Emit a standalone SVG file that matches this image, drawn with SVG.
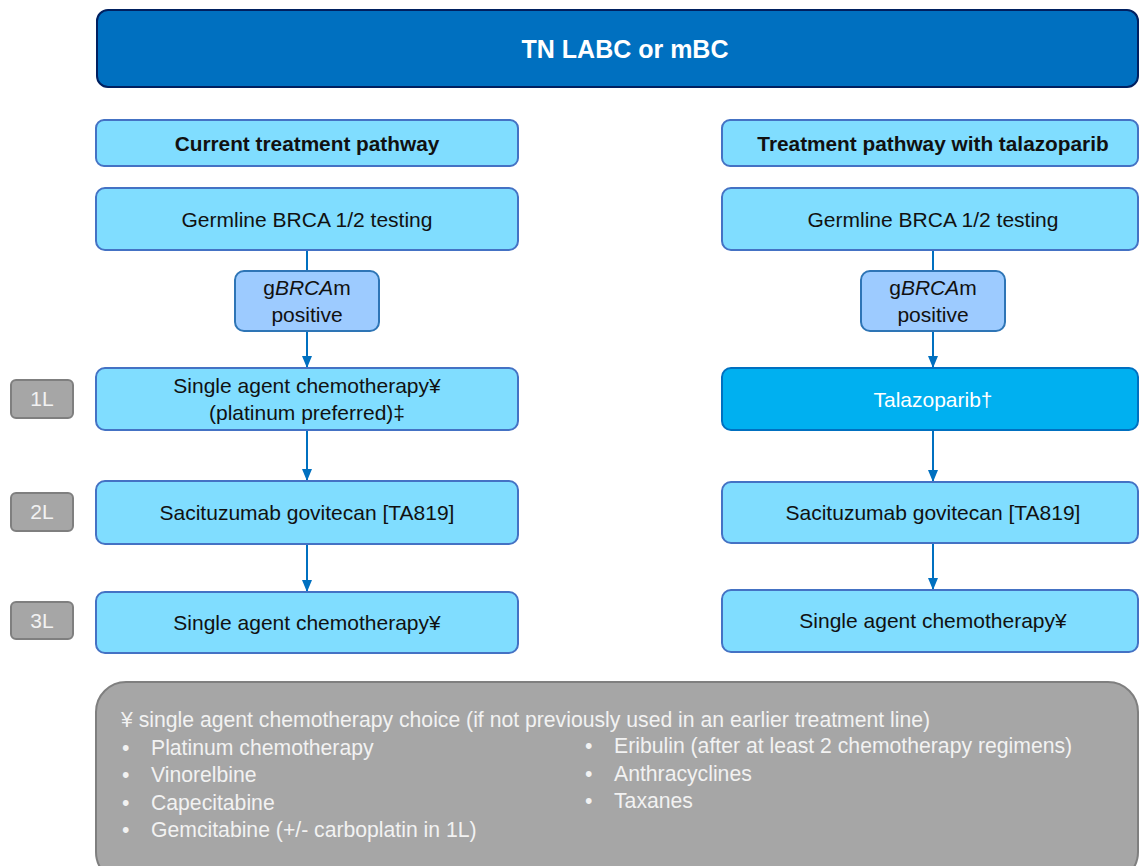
<svg xmlns="http://www.w3.org/2000/svg" width="1139" height="866" viewBox="0 0 1139 866">
<style>
text{font-family:"Liberation Sans",Arial,sans-serif;font-size:21px;fill:#111;text-anchor:middle}
.box{fill:#80DDFF;stroke:#4472C4;stroke-width:2}
.pos{fill:#9DCBFF;stroke:#2E75B6;stroke-width:2}
.tal{fill:#00B0F0;stroke:#0070C0;stroke-width:2}
.lbl{fill:#A6A6A6;stroke:#7F7F7F;stroke-width:2}
.lt{fill:#F2F2F2}
.b{font-weight:bold;font-size:20.8px}
.conn line{stroke:#0070C0;stroke-width:2}
.note text{fill:#F2F2F2;text-anchor:start;font-size:21.2px}
</style>
<defs>
<marker id="ah" viewBox="0 0 12 10" refX="12" refY="5" markerWidth="12" markerHeight="10" markerUnits="userSpaceOnUse" orient="auto">
<path d="M0,0 L12,5 L0,10 z" fill="#0070C0"/>
</marker>
</defs>

<g id="title">
<rect x="97" y="10" width="1041" height="77" rx="11" fill="#0070C0" stroke="#002060" stroke-width="2"/>
<text x="625" y="58" class="b" style="font-size:25px;fill:#fff">TN LABC or mBC</text>
</g>

<g id="connectors" class="conn">
<line x1="307" y1="250" x2="307" y2="271"/>
<line x1="307" y1="331" x2="307" y2="368" marker-end="url(#ah)"/>
<line x1="307" y1="430" x2="307" y2="481" marker-end="url(#ah)"/>
<line x1="307" y1="544" x2="307" y2="592" marker-end="url(#ah)"/>
<line x1="933" y1="250" x2="933" y2="271"/>
<line x1="933" y1="331" x2="933" y2="368" marker-end="url(#ah)"/>
<line x1="933" y1="430" x2="933" y2="482" marker-end="url(#ah)"/>
<line x1="933" y1="543" x2="933" y2="590" marker-end="url(#ah)"/>
</g>

<g id="left-header">
<rect class="box" x="96" y="120" width="422" height="46" rx="8"/>
<text x="307" y="151" class="b">Current treatment pathway</text>
</g>
<g id="left-germline">
<rect class="box" x="96" y="188" width="422" height="62" rx="9"/>
<text x="307" y="227">Germline BRCA 1/2 testing</text>
</g>
<g id="left-gbrcam">
<rect class="pos" x="235" y="271" width="144" height="60" rx="9"/>
<text x="307" y="295">g<tspan font-style="italic">BRCA</tspan>m</text>
<text x="307" y="322">positive</text>
</g>
<g id="left-1l">
<rect class="box" x="96" y="368" width="422" height="62" rx="9"/>
<text x="307" y="393">Single agent chemotherapy¥</text>
<text x="307" y="420">(platinum preferred)‡</text>
</g>
<g id="left-2l">
<rect class="box" x="96" y="481" width="422" height="63" rx="9"/>
<text x="307" y="520">Sacituzumab govitecan [TA819]</text>
</g>
<g id="left-3l">
<rect class="box" x="96" y="592" width="422" height="61" rx="9"/>
<text x="307" y="630">Single agent chemotherapy¥</text>
</g>

<g id="label-1l">
<rect class="lbl" x="11" y="380" width="62" height="38" rx="5"/>
<text x="42" y="406" class="lt">1L</text>
</g>
<g id="label-2l">
<rect class="lbl" x="11" y="493" width="62" height="38" rx="5"/>
<text x="42" y="519" class="lt">2L</text>
</g>
<g id="label-3l">
<rect class="lbl" x="11" y="602" width="62" height="37" rx="5"/>
<text x="42" y="628" class="lt">3L</text>
</g>

<g id="right-header">
<rect class="box" x="722" y="120" width="416" height="46" rx="8"/>
<text x="933" y="151" class="b">Treatment pathway with talazoparib</text>
</g>
<g id="right-germline">
<rect class="box" x="722" y="188" width="416" height="62" rx="9"/>
<text x="933" y="227">Germline BRCA 1/2 testing</text>
</g>
<g id="right-gbrcam">
<rect class="pos" x="861" y="271" width="144" height="60" rx="9"/>
<text x="933" y="295">g<tspan font-style="italic">BRCA</tspan>m</text>
<text x="933" y="322">positive</text>
</g>
<g id="right-talazoparib">
<rect class="tal" x="722" y="368" width="416" height="62" rx="9"/>
<text x="933" y="407" style="fill:#fff">Talazoparib†</text>
</g>
<g id="right-2l">
<rect class="box" x="722" y="482" width="416" height="61" rx="9"/>
<text x="933" y="520">Sacituzumab govitecan [TA819]</text>
</g>
<g id="right-3l">
<rect class="box" x="722" y="590" width="416" height="62" rx="9"/>
<text x="933" y="628">Single agent chemotherapy¥</text>
</g>

<g id="note" class="note">
<rect x="96" y="682" width="1042" height="200" rx="30" fill="#A6A6A6" stroke="#7F7F7F" stroke-width="2"/>
<text x="121" y="727">¥ single agent chemotherapy choice (if not previously used in an earlier treatment line)</text>
<text x="122" y="755">•</text><text x="151" y="755">Platinum chemotherapy</text>
<text x="122" y="782">•</text><text x="151" y="782">Vinorelbine</text>
<text x="122" y="810">•</text><text x="151" y="810">Capecitabine</text>
<text x="122" y="837">•</text><text x="151" y="837">Gemcitabine (+/- carboplatin in 1L)</text>
<text x="585" y="753">•</text><text x="614" y="753">Eribulin (after at least 2 chemotherapy regimens)</text>
<text x="585" y="781">•</text><text x="614" y="781">Anthracyclines</text>
<text x="585" y="808">•</text><text x="614" y="808">Taxanes</text>
</g>
</svg>
